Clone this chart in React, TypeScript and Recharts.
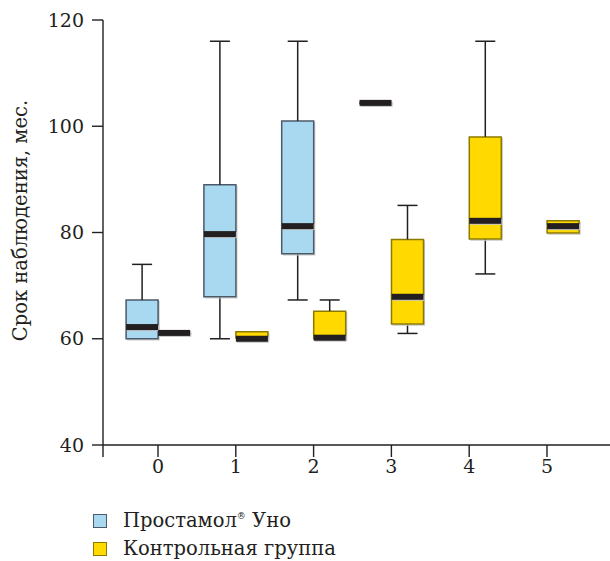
import { ComposedChart, Bar, XAxis, YAxis, ReferenceLine } from 'recharts'

const groups = [0, 1, 2, 3, 4, 5]
const yTicks = [40, 60, 80, 100, 120]
const yTitle = 'Срок наблюдения, мес.'

// Простамол® Уно (null = no data for the group)
const unoMin = [60, 60, 67.3, 104.4, null, null]
const unoQ1 = [60, 67.9, 76, 104.4, null, null]
const unoMed = [62.2, 79.7, 81.2, 104.4, null, null]
const unoQ3 = [67.3, 89, 101, 104.4, null, null]
const unoMax = [74, 116, 116, 104.4, null, null]

// Контрольная группа
const ctrlMin = [61.1, 60, 60, 61, 72.2, 79.9]
const ctrlQ1 = [61.1, 60, 60, 62.8, 78.8, 79.9]
const ctrlMed = [61.1, 60, 60.2, 67.9, 82.2, 81.2]
const ctrlQ3 = [61.1, 61.3, 65.2, 78.7, 98, 82.2]
const ctrlMax = [61.1, 61.3, 67.3, 85.1, 116, 82.2]

const legendItems = [
  { label: 'Простамол', sup: '®', rest: ' Уно', fill: '#a9d8f1', stroke: '#4b5a69' },
  { label: 'Контрольная группа', sup: '', rest: '', fill: '#ffd900', stroke: '#8c7a00' },
]

const INK = '#231f20'
const FONT = '"DejaVu Serif", serif'

// stacked segments: base -> min -> q1 -> median -> q3 -> max
const seg = (mn: any[], q1: any[], md: any[], q3: any[], mx: any[], i: number) => {
  if (md[i] == null) return { has: false, s0: 0, s1: 0, s2: 0, s3: 0, s4: 0 }
  return {
    has: true,
    s0: mn[i],
    s1: q1[i] - mn[i],
    s2: md[i] - q1[i],
    s3: q3[i] - md[i],
    s4: mx[i] - q3[i],
  }
}

const data = groups.map((g, i) => {
  const u = seg(unoMin, unoQ1, unoMed, unoQ3, unoMax, i)
  const c = seg(ctrlMin, ctrlQ1, ctrlMed, ctrlQ3, ctrlMax, i)
  return {
    group: g,
    uHas: u.has, u0: u.s0, u1: u.s1, u2: u.s2, u3: u.s3, u4: u.s4,
    cHas: c.has, c0: c.s0, c1: c.s1, c2: c.s2, c3: c.s3, c4: c.s4,
  }
})

const empty = () => <g />

const whisker = (flag: string, cap: 'top' | 'bottom') => (p: any) => {
  const { x, y, width, height, payload } = p
  if (!payload[flag] || !(height > 0.5)) return <g />
  const cx = x + width / 2
  const cy = cap === 'top' ? y : y + height
  return (
    <g>
      <line x1={cx} x2={cx} y1={y} y2={y + height} stroke={INK} strokeWidth={1.5} />
      <line x1={cx - 10} x2={cx + 10} y1={cy} y2={cy} stroke={INK} strokeWidth={1.5} />
    </g>
  )
}

const boxLower = (flag: string, fill: string, stroke: string) => (p: any) => {
  const { x, y, width, height, payload } = p
  if (!payload[flag]) return <g />
  const b = y + height
  return (
    <g>
      <path d={`M${x + 1},${b + 1.2}H${x + width + 1}V${y}`} fill="none" stroke="#c9c9c9" strokeWidth={1.2} />
      <rect x={x} y={y} width={width} height={Math.max(height, 0)} fill={fill} />
      <path d={`M${x},${y}V${b}H${x + width}V${y}`} fill="none" stroke={stroke} strokeWidth={1.5} />
    </g>
  )
}

const boxUpper = (flag: string, fill: string, stroke: string) => (p: any) => {
  const { x, y, width, height, payload } = p
  if (!payload[flag]) return <g />
  const b = y + height
  return (
    <g>
      <path d={`M${x + width + 1},${y + 1}V${b}`} fill="none" stroke="#c9c9c9" strokeWidth={1.2} />
      <rect x={x} y={y} width={width} height={Math.max(height, 0)} fill={fill} />
      <path d={`M${x},${b}V${y}H${x + width}V${b}`} fill="none" stroke={stroke} strokeWidth={1.5} />
      <rect x={x + 1} y={b - 2} width={width} height={6} fill="#c4c4c4" />
      <rect x={x} y={b - 3} width={width} height={6} fill={INK} />
    </g>
  )
}

function AxisTitle(props: any) {
  const vb = props.viewBox || { x: 0, y: 20, width: 103, height: 425 }
  const x = vb.x + 27
  const y = vb.y + vb.height / 2 - 12
  return (
    <text
      x={x}
      y={y}
      transform={`rotate(-90 ${x} ${y})`}
      textAnchor="middle"
      fill={INK}
      fontSize={19.5}
      fontFamily={FONT}
    >
      {yTitle}
    </text>
  )
}

const tickStyle = { fill: INK, fontSize: 19, fontFamily: FONT, style: { fontFamily: FONT } }

export default function App() {
  const uno = legendItems[0]
  const ctrl = legendItems[1]
  return (
    <div style={{ position: 'absolute', left: 0, top: 0, width: 610, height: 561, background: '#fff', fontFamily: FONT }}>
      <ComposedChart
        width={610}
        height={561}
        data={data}
        margin={{ top: 20, right: 0, bottom: 0, left: 0 }}
        barSize={32}
        barGap={0}
        style={{ fontFamily: FONT }}
      >
        <XAxis
          dataKey="group"
          type="number"
          domain={[-0.707, 5.81]}
          allowDataOverflow
          ticks={groups}
          interval={0}
          height={116}
          tickSize={12}
          tickMargin={3}
          stroke={INK}
          strokeWidth={1.4}
          tick={tickStyle}
        />
        <YAxis
          type="number"
          domain={[40, 120]}
          allowDataOverflow
          ticks={yTicks}
          interval={0}
          width={103}
          tickSize={11}
          tickMargin={8}
          stroke={INK}
          strokeWidth={1.4}
          tick={tickStyle}
          label={<AxisTitle />}
        />
        <ReferenceLine
          segment={[{ x: -0.707, y: 40 }, { x: -0.707, y: 37.75 }]}
          stroke={INK}
          strokeWidth={1.4}
          ifOverflow="visible"
        />
        <Bar dataKey="u0" stackId="uno" shape={empty} isAnimationActive={false} />
        <Bar dataKey="u1" stackId="uno" shape={whisker('uHas', 'bottom')} isAnimationActive={false} />
        <Bar dataKey="u2" stackId="uno" shape={boxLower('uHas', uno.fill, uno.stroke)} isAnimationActive={false} />
        <Bar dataKey="u3" stackId="uno" shape={boxUpper('uHas', uno.fill, uno.stroke)} isAnimationActive={false} />
        <Bar dataKey="u4" stackId="uno" shape={whisker('uHas', 'top')} isAnimationActive={false} />
        <Bar dataKey="c0" stackId="ctrl" shape={empty} isAnimationActive={false} />
        <Bar dataKey="c1" stackId="ctrl" shape={whisker('cHas', 'bottom')} isAnimationActive={false} />
        <Bar dataKey="c2" stackId="ctrl" shape={boxLower('cHas', ctrl.fill, ctrl.stroke)} isAnimationActive={false} />
        <Bar dataKey="c3" stackId="ctrl" shape={boxUpper('cHas', ctrl.fill, ctrl.stroke)} isAnimationActive={false} />
        <Bar dataKey="c4" stackId="ctrl" shape={whisker('cHas', 'top')} isAnimationActive={false} />
      </ComposedChart>
      <div style={{ position: 'absolute', left: 93, top: 507, color: INK, fontSize: 19.5, lineHeight: '28px' }}>
        {legendItems.map((it) => (
          <div key={it.label} style={{ display: 'flex', alignItems: 'center', height: 28 }}>
            <span
              style={{
                display: 'inline-block',
                width: 12,
                height: 12,
                background: it.fill,
                border: `1px solid ${it.stroke}`,
                marginRight: 16,
              }}
            />
            <span>
              {it.label}
              {it.sup && <sup style={{ fontSize: 9, verticalAlign: 'top', lineHeight: '18px' }}>{it.sup}</sup>}
              {it.rest}
            </span>
          </div>
        ))}
      </div>
    </div>
  )
}
